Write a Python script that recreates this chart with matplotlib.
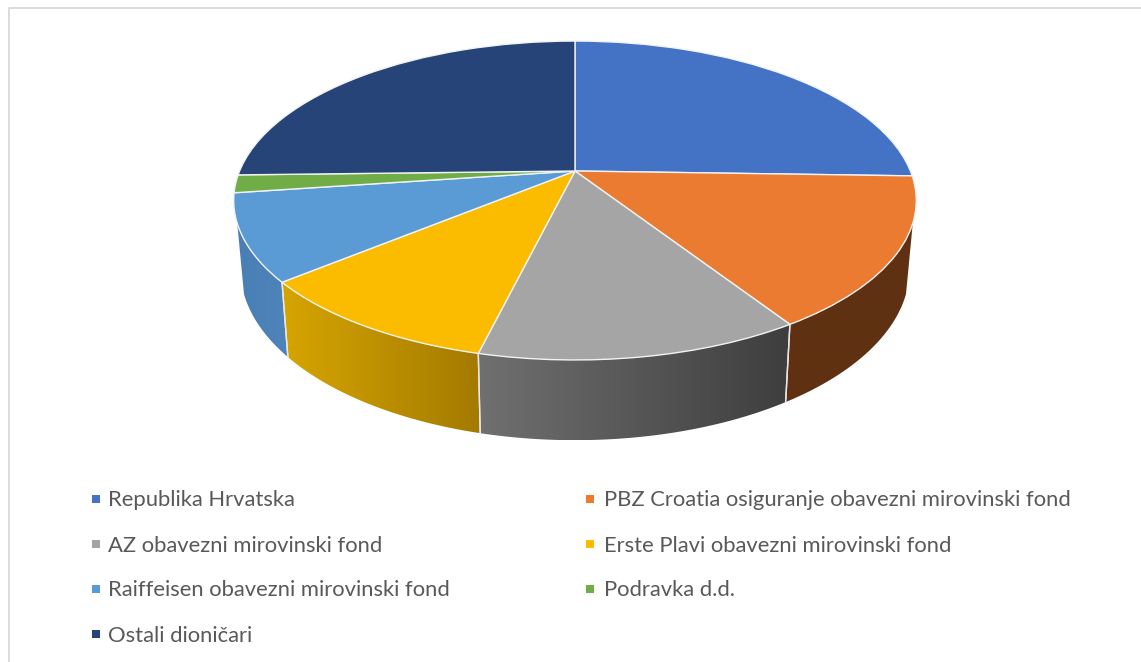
import matplotlib
matplotlib.use("Agg")
import matplotlib.pyplot as plt
import numpy as np
from matplotlib.colors import LinearSegmentedColormap
from matplotlib.patches import Polygon
from matplotlib.transforms import Transform

labels = [
    "Republika Hrvatska",
    "PBZ Croatia osiguranje obavezni mirovinski fond",
    "AZ obavezni mirovinski fond",
    "Erste Plavi obavezni mirovinski fond",
    "Raiffeisen obavezni mirovinski fond",
    "Podravka d.d.",
    "Ostali dioničari",
]
shares = [25.5, 15.4, 12.9, 10.2, 8.8, 1.8, 25.4]
colors = ["#4472C4", "#EB7B30", "#A5A5A5", "#FBBC00", "#5B9BD5", "#70AD47", "#264478"]
# side wall colours, left end and right end of the gradient
wall_left = ["#2F528F", "#5F3112", "#707070", "#D6A500", "#4A7FB5", "#507E33", "#1A2F55"]
wall_right = ["#2F528F", "#5F3112", "#3E3E3E", "#A37A00", "#4E84BA", "#507E33", "#1A2F55"]

# tilt of the disc, in pixels of the picture
CX, CY = 575, 171
SCALE_X, SCALE_Y = 335.4, 154.0
PERSP = 0.185
DROP, BOTTOM_X, BOTTOM_Y = 67, 0.98, 1.07
HIDDEN = 0.32  # side wall is hidden above this part of the disc


class Tilt(Transform):
    input_dims = output_dims = 2

    def __init__(self, drop=0, sx=1.0, sy=1.0):
        super().__init__()
        self.drop, self.sx, self.sy = drop, sx, sy

    def transform_non_affine(self, xy):
        xy = np.asarray(xy, dtype=float)
        w = 1 + PERSP * xy[:, 1]
        px = CX + self.sx * SCALE_X * xy[:, 0] / w
        py = CY + self.drop - self.sy * SCALE_Y * xy[:, 1] / w
        return np.column_stack([px, py])


top = Tilt()
bottom = Tilt(DROP, BOTTOM_X, BOTTOM_Y)

fig = plt.figure(figsize=(11.41, 6.62), dpi=100)
ax = fig.add_axes([0, 0, 1, 1])

wedges, _ = ax.pie(
    shares,
    colors=colors,
    startangle=90,
    counterclock=False,
    wedgeprops={"edgecolor": "#F2F2F2", "linewidth": 1.0, "zorder": 5},
)
for wedge in wedges:
    wedge.set_transform(top + ax.transData)

# side walls, only the front part of the rim is visible
limit = np.arccos(-HIDDEN)
edges = np.radians(np.cumsum([0] + shares) * 3.6)
for i in range(len(shares)):
    a0 = max(edges[i], limit)
    a1 = min(edges[i + 1], 2 * np.pi - limit)
    if a1 <= a0:
        continue
    t = np.linspace(a0, a1, 80)
    rim = np.column_stack([np.sin(t), np.cos(t)])
    outline = np.vstack([top.transform(rim), bottom.transform(rim)[::-1]])
    x0, x1 = outline[:, 0].min(), outline[:, 0].max()
    y0, y1 = outline[:, 1].min(), outline[:, 1].max()
    cmap = LinearSegmentedColormap.from_list("wall", [wall_left[i], wall_right[i]])
    grad = ax.imshow(
        np.linspace(0, 1, 256).reshape(1, -1),
        cmap=cmap,
        extent=(x0, x1, y1, y0),
        aspect="auto",
        zorder=2,
    )
    clip = Polygon(outline, closed=True, transform=ax.transData, facecolor="none", edgecolor="none")
    ax.add_patch(clip)
    grad.set_clip_path(clip)
    # white seams between the slices
    for a in [edges[i], edges[i + 1]]:
        if limit < a < 2 * np.pi - limit:
            p = np.array([[np.sin(a), np.cos(a)]])
            seam = np.vstack([top.transform(p), bottom.transform(p)])
            ax.plot(seam[:, 0], seam[:, 1], color="#E8E8E8", lw=1.0, zorder=3)

# chart frame, only the top and left side are in the crop
ax.plot([8.5, 8.5, 1141], [662, 7.5, 7.5], color="#D9D9D9", lw=1.3, zorder=1)

# legend
col_x = [92, 586]
row_y = [499, 544, 589, 634]
for i, label in enumerate(labels):
    x = col_x[i % 2]
    y = row_y[i // 2]
    ax.scatter([x + 3.5], [y], marker="s", s=30, color=colors[i], linewidths=0, zorder=4)
    ax.text(x + (16 if i % 2 == 0 else 18), y + 1.5, label, family="Lato", fontsize=15.8,
            color="#595959", va="center", ha="left")

ax.set_aspect("auto")
ax.set_xlim(0, 1141)
ax.set_ylim(662, 0)
ax.axis("off")
fig.savefig("out.png", dpi=100, facecolor="white")
